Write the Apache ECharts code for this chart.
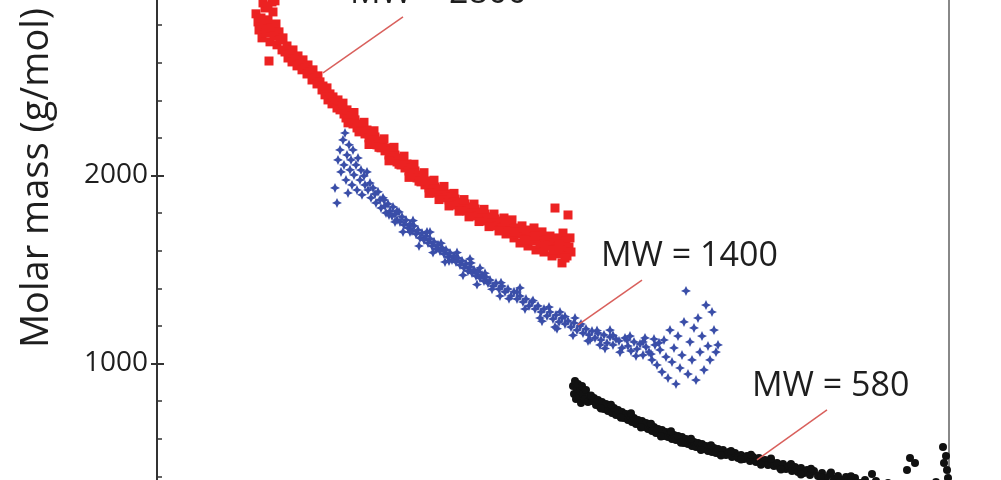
<!DOCTYPE html>
<html>
<head>
<meta charset="utf-8">
<title>Molar mass vs elution</title>
<script src="https://cdn.jsdelivr.net/npm/echarts@6.0.0/dist/echarts.min.js"></script>
<style>
    html, body {
        margin: 0;
        padding: 0;
        background: #fff;
    }
    #chart {
        width: 1001px;
        height: 480px;
    }
</style>
</head>
<body>
<div id="chart"></div>
<script>
// elution volume (mL), molar mass (g/mol)
const redPoints = [
    [10.99,2860],[11.01,2817],[11.02,2774],[11.04,2838],[11.05,2732],[11.07,2796],[11.08,2891],[11.09,2758],[11.11,2828],[11.12,2609],[11.13,2711],[11.14,2785],[11.15,2923],[11.16,2870],[11.17,2742],[11.19,2806],[11.20,2695],[11.22,2764],[11.23,2721],[11.25,2668],[11.26,2732],[11.06,2918],[11.11,2902],[11.18,2929],
    [11.28,2657],[11.30,2689],[11.31,2625],[11.33,2647],[11.35,2604],[11.36,2668],[11.38,2615],[11.40,2583],[11.41,2636],[11.43,2594],[11.45,2562],[11.46,2615],[11.48,2572],[11.50,2540],[11.51,2588],[11.53,2551],[11.55,2508],[11.56,2562],[11.58,2519],[11.60,2487],[11.61,2530],[11.63,2498],
    [11.65,2455],[11.66,2476],[11.68,2429],[11.70,2466],[11.71,2402],[11.73,2434],[11.75,2381],[11.76,2418],[11.78,2391],[11.80,2359],[11.81,2402],[11.83,2349],
    [11.85,2370],[11.87,2327],[11.89,2306],[11.90,2349],[11.92,2296],[11.94,2317],[11.96,2274],[11.98,2296],[12.00,2253],[12.02,2274],[12.04,2237],[12.06,2258],[12.08,2221],[12.10,2242],[12.12,2200],[12.14,2221],[12.16,2184],[12.18,2205],[12.20,2163],[12.22,2184],[12.24,2147],[12.26,2168],[12.28,2131],[12.30,2147],[12.32,2109],[12.34,2131],[12.36,2093],[12.38,2109],[12.40,2072],[12.42,2093],[12.44,2056],[12.46,2077],[12.48,2040],[12.50,2061],[12.52,2024],[12.54,2040],[12.56,2003],[12.58,2024],[12.60,1987],[12.62,2003],[12.64,1966],[12.66,1987],[12.68,1950],[12.70,1971],[12.72,1934],[12.74,1955],[12.76,1923],[12.78,1939],[12.80,1907],[12.82,1929],[12.84,1897],[12.86,1913],[12.88,1881],[12.90,1902],[12.92,1870],[12.94,1886],[12.96,1854],[12.98,1875],[13.00,1843],[13.03,1859],[13.05,1827],[13.08,1849],[13.10,1811],[13.13,1833],[13.15,1801],[13.18,1822],[13.20,1785],[13.23,1806],[13.25,1774],[13.28,1795],[13.30,1758],[13.33,1780],[13.35,1748],[13.38,1769],[13.40,1732],[13.43,1758],
    [13.45,1721],[13.47,1774],[13.49,1689],[13.51,1742],[13.53,1705],[13.55,1764],[13.57,1668],[13.59,1721],[13.61,1689],[13.63,1641],[13.65,1732],[13.67,1673],[13.69,1710],[13.71,1625],[13.73,1684],[13.75,1652],[13.77,1721],[13.79,1604],[13.81,1668],[13.83,1636],[13.85,1700],[13.87,1593],[13.89,1657],[13.91,1625],[13.93,1678],[13.95,1572],[13.97,1641],[13.98,1827],[13.99,1609],[14.01,1668],[14.03,1583],[14.04,1636],[14.05,1535],[14.06,1694],[14.07,1604],[14.09,1652],[14.10,1572],[14.11,1790],[14.12,1620],[14.13,1668],[14.14,1593],
    [13.48,1753],[13.58,1700],[13.68,1657],[13.78,1678],[13.88,1625],[13.96,1604],[14.02,1625],[14.08,1561],
    [11.86,2385],[11.91,2280],[11.97,2335],[12.02,2232],[12.07,2283],[12.12,2165],[12.17,2238],[12.22,2150],[12.27,2195],[12.32,2078],[12.37,2150],[12.42,2060],[12.47,2103],[12.52,1990],[12.57,2060],[12.62,1970],[12.67,2015],[12.72,1905],[12.77,1975],[12.82,1872],[12.87,1942],[12.92,1838],[12.97,1905],[13.02,1810],[13.07,1872],[13.12,1780],[13.17,1848],[13.22,1755],[13.27,1820],[13.32,1728],[13.37,1795],[13.42,1705]
]
const bluePoints = [
    [11.78,1934],[11.80,1854],[11.81,2083],[11.83,2136],[11.84,2019],[11.86,2189],[11.87,2056],[11.88,2226],[11.89,1976],[11.90,2109],[11.91,1907],[11.92,2163],[11.93,2030],[11.94,2083],[11.95,1950],[11.96,2136],[11.97,2003],[11.99,2056],[12.00,1923],[12.01,2093],[12.03,1976],[12.04,2029],[12.05,1897],[12.07,1998],[12.08,1950],[12.10,2019],[12.11,1923],[12.13,1960],[12.14,1881],[12.16,1934],[12.18,1902],[12.19,1854],[12.21,1913],[12.23,1870],[12.24,1827],[12.26,1881],[12.28,1838],[12.29,1801],[12.31,1849],[12.33,1811],[12.35,1785],[12.36,1833],[12.38,1795],[12.40,1763],[12.42,1806],[12.43,1753],[12.45,1780],[12.47,1737],[12.49,1763],[12.51,1721],[12.53,1742],[12.55,1705],[12.57,1732],[12.59,1689],[12.61,1710],[12.63,1668],[12.65,1694],[12.67,1657],[12.69,1678],[12.71,1641],[12.73,1663],[12.75,1625],[12.77,1647],[12.79,1609],[12.81,1631],[12.83,1599],[12.85,1615],[12.87,1583],[12.89,1604],[12.91,1567],[12.93,1588],[12.95,1551],[12.97,1572],[12.99,1540],[13.01,1561],[13.03,1524],[13.05,1546],[13.07,1508],[13.09,1530],[13.11,1492],[13.13,1514],[13.15,1482],[13.17,1498],[13.19,1466],[13.21,1487],[13.23,1455],[13.25,1471],[13.27,1439],[13.29,1460],[13.31,1428],[13.33,1444],[13.36,1412],[13.39,1428],[13.42,1396],[13.45,1412],[13.48,1381],[13.51,1396],[13.54,1359],[13.57,1381],[13.60,1343],[13.63,1359],[13.66,1327],[13.69,1343],[13.72,1306],[13.75,1327],[13.78,1290],[13.81,1306],[13.84,1274],[13.87,1290],[13.90,1253],[13.93,1274],[13.96,1237],[13.99,1258],[14.02,1221],[14.05,1242],[14.08,1210],[14.11,1226],[14.14,1194],[14.17,1216],[14.20,1178],[14.23,1200],[14.26,1162],[14.29,1184],[14.32,1152],[14.35,1173],[14.38,1136],[14.41,1162],[14.44,1125],[14.47,1152],[14.50,1109],[14.53,1141],[14.56,1099],[14.59,1130],[14.62,1120],[14.65,1083],[14.68,1136],[14.71,1093],[14.74,1067],[14.77,1115],[14.80,1077],[14.83,1104],[14.86,1045],[14.89,1088],[14.92,1061],[14.95,1019],[14.98,1099],[15.00,992],[15.03,1072],[15.05,955],[15.07,1125],[15.09,1035],[15.11,923],[15.13,1178],[15.15,1008],[15.17,1083],[15.19,891],[15.21,1146],[15.23,976],[15.25,1045],[15.27,1221],[15.29,1386],[15.31,944],[15.33,1115],[15.35,1019],[15.37,1189],[15.39,912],[15.41,1242],[15.43,1061],[15.45,1146],[15.47,966],[15.49,1311],[15.51,1093],[15.53,1019],[15.55,1274],[15.57,1178],[15.59,1061],[15.61,1099],
    [12.73,1699],[12.88,1540],[13.13,1556],[13.43,1359],[13.63,1402],[13.83,1242],[14.03,1274],[14.33,1125],[14.53,1178],[14.73,1146],[14.88,1136],[14.43,1099],[14.18,1242],[13.98,1194],[13.23,1508],[12.53,1700],[12.38,1753],
    [12.27,1870],[12.32,1790],[12.40,1810],[12.46,1700],[12.56,1760],[12.62,1625],[12.70,1700],[12.76,1590],[12.84,1640],[12.92,1545],[13.00,1590],[13.06,1470],[13.14,1535],[13.20,1420],[13.28,1480],[13.35,1395],[13.44,1430],[13.52,1345],[13.60,1380],[13.68,1290],[13.76,1335],[13.85,1225],[13.92,1300],[14.00,1185],[14.08,1250],[14.16,1150],[14.24,1210],[14.31,1120],[14.40,1175],[14.48,1080],[14.56,1150],[14.63,1060],[14.70,1125],[14.79,1040],[14.86,1115],[14.94,1050],[15.02,1110],[14.97,1130]
]
const blackPoints = [
    [14.16,880],[14.17,838],[14.18,907],[14.19,811],[14.20,864],[14.21,891],[14.22,822],[14.23,854],[14.24,790],[14.25,880],[14.26,838],[14.28,811],[14.29,859],[14.31,795],[14.33,827],[14.35,801],[14.37,817],[14.39,779],[14.41,806],[14.43,769],[14.45,795],[14.47,758],[14.49,785],[14.51,747],[14.53,774],[14.55,737],[14.57,763],[14.59,726],[14.61,753],[14.63,721],[14.65,742],[14.67,710],[14.69,731],[14.71,700],[14.73,721],[14.75,689],[14.77,710],[14.79,678],[14.81,700],[14.83,673],[14.85,694],[14.87,662],[14.89,684],[14.91,652],[14.93,673],[14.95,641],[14.97,662],[14.99,630],[15.01,652],[15.03,625],[15.05,646],[15.07,614],[15.09,636],[15.11,609],[15.13,630],[15.15,598],[15.17,620],[15.19,593],[15.21,614],[15.23,588],[15.25,609],[15.27,577],[15.29,598],[15.31,572],[15.33,593],[15.35,561],[15.37,583],[15.39,556],[15.41,577],[15.43,551],[15.45,572],[15.47,545],[15.49,561],[15.51,535],[15.53,556],[15.55,529],[15.57,551],[15.59,524],[15.61,545],[15.63,519],[15.66,540],[15.69,513],[15.72,529],[15.75,503],[15.78,524],[15.81,497],[15.84,513],[15.87,492],[15.90,508],[15.93,481],[15.96,503],[15.99,476],[16.02,497],[16.05,471],[16.08,487],[16.11,460],[16.14,481],[16.17,455],[16.20,471],[16.23,444],[16.26,465],[16.29,439],[16.32,455],[16.35,428],[16.38,450],[16.41,423],[16.44,444],[16.47,418],[16.50,434],[16.53,407],[16.57,428],[16.61,402],[16.65,418],[16.69,391],[16.73,412],[16.77,386],[16.81,402],[16.85,375],[16.89,396],[16.93,370],[16.98,391],[17.03,364],[17.08,380],[17.13,359],[17.15,412],[17.19,375],[17.25,354],[17.31,364],[17.38,349],[17.45,359],[17.50,434],[17.53,497],[17.58,471],[17.63,359],[17.71,349],[17.79,370],[17.86,556],[17.87,471],[17.89,508],[17.90,434],[17.91,391],
    [14.34,830],[14.44,760],[14.54,780],[14.64,712],[14.74,735],[14.84,660],[14.94,680],[15.04,612],[15.14,640],[15.24,578],[15.34,600],[15.44,540],[15.54,565],[15.64,510],[15.74,535],[15.84,490],[15.94,515],[16.04,462],[16.14,495],[16.24,436],[16.34,465],[16.44,410],[16.54,440],[16.64,395],[16.74,420],[16.84,380],[16.94,400]
]

// annotation leader lines: [from, to] in data units, and their labels
const leaderLines = [
    [[11.66, 2546], [12.46, 2844]],
    [[14.21, 1205], [14.85, 1444]],
    [[16.00, 487], [16.70, 753]]
]
const mwLabels = ['MW = 2800', 'MW = 1400', 'MW = 580']
const yTicks = [0, 1000, 2000, 3000]

const chart = echarts.init(document.getElementById('chart'))
const font = '"Open Sans", "Noto Sans", sans-serif'
const starPath = 'path://M0,-5 L1.6,-1.6 L5,0 L1.6,1.6 L0,5 L-1.6,1.6 L-5,0 L-1.6,-1.6 Z'

const yBase = {
    type: 'value',
    min: yTicks[0],
    max: yTicks[yTicks.length - 1],
    interval: 1000,
    splitLine: { show: false }
}

chart.setOption({
    animation: false,
    backgroundColor: '#fff',
    grid: {
        left: 157,
        right: 52,
        top: -12.5,
        bottom: -71.5,
        containLabel: false,
        outerBoundsMode: 'none'
    },
    xAxis: {
        type: 'value',
        min: 10,
        max: 17.92,
        show: false
    },
    yAxis: [
        Object.assign({}, yBase, {
            position: 'left',
            axisLine: { show: true, lineStyle: { color: '#333', width: 2 } },
            axisTick: { show: true, inside: false, length: 6, lineStyle: { color: '#333', width: 2 } },
            axisLabel: {
                fontFamily: font,
                fontSize: 28,
                color: '#1e1e1e',
                margin: 9,
                formatter: function (v) { return String(v) }
            }
        }),
        Object.assign({}, yBase, {
            position: 'left',
            axisLine: { show: false },
            axisTick: { show: true, inside: true, length: 7, lineStyle: { color: '#333', width: 2 } },
            minorTick: { show: true, splitNumber: 5, length: 5, lineStyle: { color: '#333', width: 1.5 } },
            axisLabel: { show: false }
        }),
        Object.assign({}, yBase, {
            position: 'right',
            axisLine: { show: true, lineStyle: { color: '#888', width: 2 } },
            axisTick: { show: false },
            axisLabel: { show: false }
        })
    ],
    series: [
        {
            name: 'MW 580',
            type: 'scatter',
            symbol: 'circle',
            symbolSize: 8,
            itemStyle: { color: '#111', opacity: 1 },
            data: blackPoints
        },
        {
            name: 'MW 1400',
            type: 'scatter',
            symbol: starPath,
            symbolSize: 10,
            itemStyle: { color: '#3a4ea8', opacity: 1 },
            data: bluePoints
        },
        {
            name: 'MW 2800',
            type: 'scatter',
            symbol: 'rect',
            symbolSize: 9,
            itemStyle: { color: '#ec2222', opacity: 1 },
            data: redPoints,
            markLine: {
                silent: true,
                symbol: ['none', 'none'],
                label: { show: false },
                lineStyle: { color: '#d9605c', width: 1.5, type: 'solid' },
                data: leaderLines.map(function (l) {
                    return [{ coord: l[0] }, { coord: l[1] }]
                })
            }
        }
    ],
    graphic: [
        {
            type: 'text',
            rotation: Math.PI / 2,
            x: 37,
            y: 178,
            style: {
                text: 'Molar mass (g/mol)',
                font: '38px ' + font,
                fill: '#1e1e1e',
                align: 'center',
                verticalAlign: 'middle'
            }
        },
        { type: 'text', x: 350, y: -7, style: { text: mwLabels[0], font: '34px ' + font, fill: '#1e1e1e', verticalAlign: 'middle' } },
        { type: 'text', x: 601, y: 256, style: { text: mwLabels[1], font: '34px ' + font, fill: '#1e1e1e', verticalAlign: 'middle' } },
        { type: 'text', x: 752, y: 386, style: { text: mwLabels[2], font: '34px ' + font, fill: '#1e1e1e', verticalAlign: 'middle' } }
    ]
})
</script>
</body>
</html>
